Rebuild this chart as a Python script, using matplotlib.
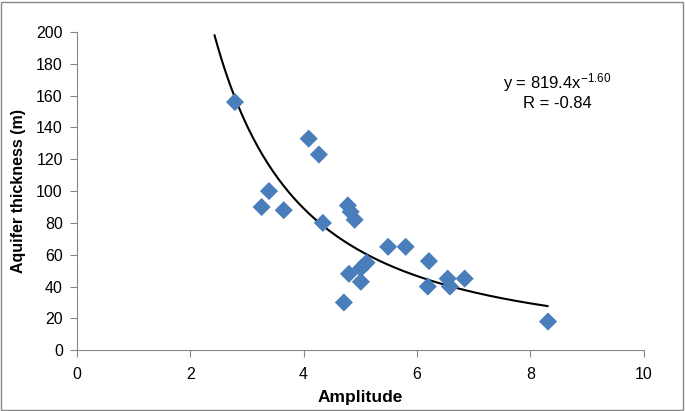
import numpy as np
import matplotlib.pyplot as plt
from matplotlib.patches import Rectangle

plt.rcParams['font.family'] = ['Liberation Sans', 'DejaVu Sans']
plt.rcParams['mathtext.default'] = 'regular'

# amplitude vs aquifer thickness
amplitude = [2.79, 4.09, 4.27, 3.39, 3.26, 3.65, 4.34, 4.78, 4.83, 4.90,
             5.49, 5.80, 6.21, 5.11, 5.01, 4.80, 5.01, 4.71, 6.19, 6.54,
             6.58, 6.84, 8.31]
thickness = [156, 133, 123, 100, 90, 88, 80, 91, 87, 82,
             65, 65, 56, 55, 51.5, 48, 43, 30, 40, 45,
             40, 45, 18]

# power fit y = a * x^b
fit_a = 819.4
fit_b = -1.60
fit_x = np.linspace(2.43, 8.3, 200)
fit_y = fit_a * fit_x ** fit_b

fig = plt.figure(figsize=(6.85, 4.11), dpi=100)
ax = fig.add_axes([0.112, 0.148, 0.828, 0.774])

ax.plot(fit_x, fit_y, color='black', lw=1.5, zorder=2)
ax.scatter(amplitude, thickness, marker='D', s=85, color='#4a7ebb',
           edgecolors='none', zorder=3)

ax.set_xlim(0, 10)
ax.set_ylim(0, 200)
ax.set_xticks(np.arange(0, 11, 2))
ax.set_yticks(np.arange(0, 201, 20))
for s in ['top', 'right']:
    ax.spines[s].set_visible(False)
for s in ['left', 'bottom']:
    ax.spines[s].set_color('#888888')
ax.tick_params(colors='#888888', labelcolor='black', labelsize=11.5,
               length=5, direction='out')
ax.tick_params(axis='y', pad=5)
ax.tick_params(axis='x', pad=7)

ax.set_xlabel('Amplitude', fontsize=12.5, fontweight='bold', labelpad=6)
ax.set_ylabel('Aquifer thickness (m)', fontsize=11.5, fontweight='bold', labelpad=7)

ax.text(8.47, 168, 'y = 819.4x$^{-1.60}$', fontsize=12, ha='center', va='center')
ax.text(8.47, 155, 'R = -0.84', fontsize=12, ha='center', va='center')

fig.add_artist(Rectangle((0.002, 0.003), 0.995, 0.993, transform=fig.transFigure,
                         fill=False, edgecolor='#888888', lw=1))

fig.savefig('out.png', dpi=100)
